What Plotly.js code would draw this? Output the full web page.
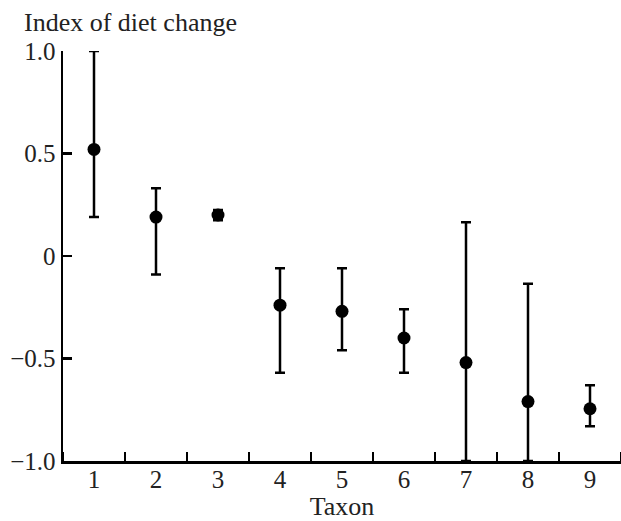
<!DOCTYPE html>
<html>
<head>
<meta charset="utf-8">
<script src="https://cdn.plot.ly/plotly-3.0.1.min.js"></script>
<style>html,body{margin:0;padding:0;background:#fff;}#chart{width:621px;height:521px;}</style>
</head>
<body>
<div id="chart"></div>
<script>
var taxa = [1, 2, 3, 4, 5, 6, 7, 8, 9];
var dietIndex = [0.52, 0.19, 0.20, -0.24, -0.27, -0.40, -0.52, -0.71, -0.745];
var upperBound = [1.0, 0.33, 0.225, -0.06, -0.06, -0.26, 0.165, -0.135, -0.63];
var lowerBound = [0.19, -0.09, 0.175, -0.57, -0.46, -0.57, -1.0, -1.0, -0.83];
var yTickVals = [-1, -0.5, 0, 0.5, 1];
var yTickText = ['\u22121.0', '\u22120.5', '0', '0.5', '1.0'];
var xTickText = ['1', '2', '3', '4', '5', '6', '7', '8', '9'];

var errPlus = dietIndex.map(function (v, i) { return upperBound[i] - v; });
var errMinus = dietIndex.map(function (v, i) { return v - lowerBound[i]; });

var font = {family: 'Liberation Serif, Times New Roman, serif', size: 26, color: '#222'};
var tickFont = {family: 'Liberation Serif, Times New Roman, serif', size: 25, color: '#222'};

var trace = {
  x: taxa,
  y: dietIndex,
  type: 'scatter',
  mode: 'markers',
  marker: {color: '#000', size: 13},
  error_y: {type: 'data', symmetric: false, array: errPlus, arrayminus: errMinus,
            color: '#000', thickness: 2.5, width: 5},
  cliponaxis: false,
  showlegend: false
};

var layout = {
  width: 621, height: 521,
  margin: {l: 63, r: 0, t: 51, b: 60},
  paper_bgcolor: '#fff', plot_bgcolor: '#fff',
  font: font,
  title: {text: 'Index of diet change', font: font, xref: 'container', yref: 'container',
          x: 24 / 621, xanchor: 'left', y: 1 - 22 / 521, yanchor: 'middle'},
  xaxis: {
    range: [0.5, 9.5], showgrid: false, zeroline: false,
    showline: true, linecolor: '#000', linewidth: 2.5,
    tickvals: taxa, ticktext: xTickText, ticks: '',
    ticklabelstandoff: -6,
    minor: {tick0: 0.5, dtick: 1, ticks: 'inside', ticklen: 9, tickwidth: 2.5, tickcolor: '#000', showgrid: false},
    tickfont: tickFont,
    title: {text: 'Taxon', font: font, standoff: 6}
  },
  yaxis: {
    range: [-1, 1], showgrid: false, zeroline: false,
    showline: true, linecolor: '#000', linewidth: 2.5,
    tickvals: yTickVals, ticktext: yTickText,
    ticks: 'inside', ticklen: 9, tickwidth: 2.5, tickcolor: '#000',
    tickfont: tickFont
  }
};

Plotly.newPlot('chart', [trace], layout, {displayModeBar: false, staticPlot: true});
</script>
</body>
</html>
